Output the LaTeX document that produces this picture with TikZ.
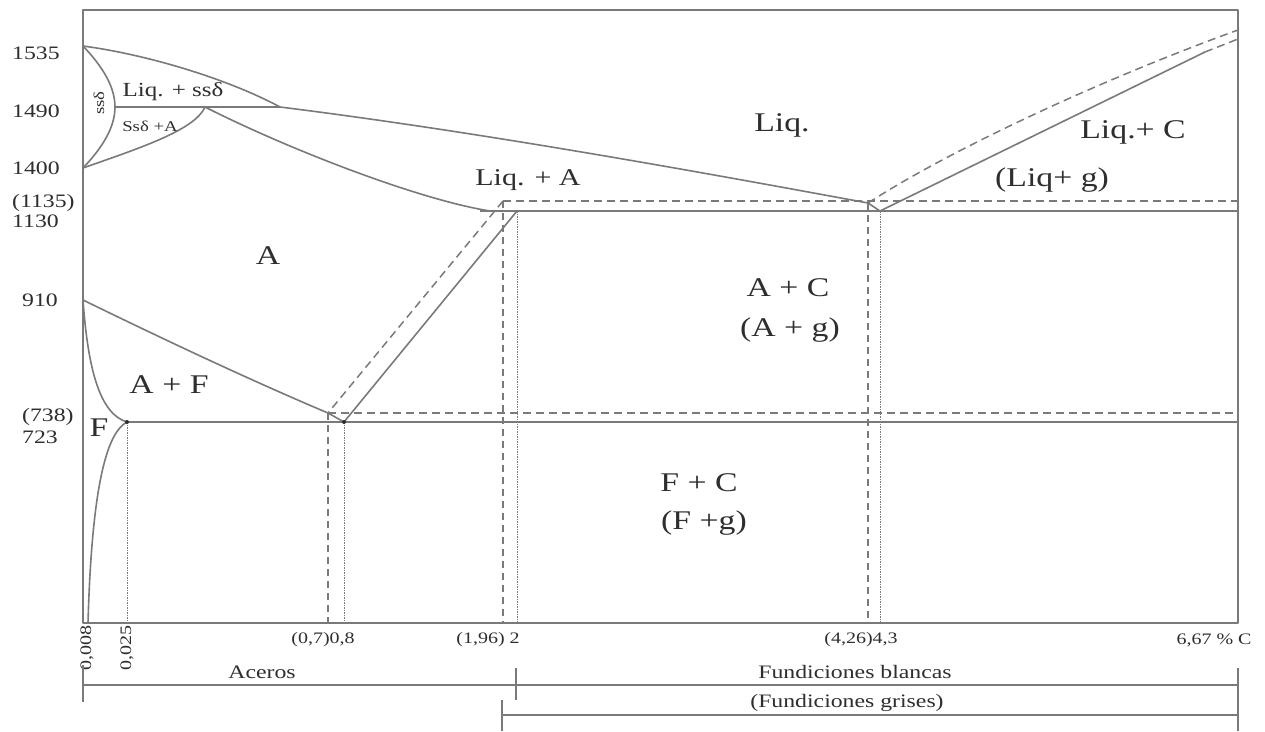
\documentclass[tikz,border=0pt]{standalone}
\usepackage{fontspec}
\setmainfont[FakeStretch=1.25]{Liberation Serif}
\definecolor{lc}{HTML}{7A7A7A}
\definecolor{tc}{HTML}{2E2E2E}
\begin{document}
\begin{tikzpicture}[x=1pt,y=-1pt,
  ln/.style={draw=lc, line width=1.6pt, line join=round},
  dsh/.style={draw=lc, line width=1.5pt, dash pattern=on 8pt off 5pt},
  vdsh/.style={draw=lc, line width=1.2pt, dash pattern=on 7pt off 5pt},
  vdot/.style={draw=lc, line width=0.9pt, dash pattern=on 1.5pt off 1pt},
  big/.style={font=\fontsize{27}{30}\selectfont, text=tc, inner sep=0pt},
  mid/.style={font=\fontsize{24}{28}\selectfont, text=tc, inner sep=0pt},
  sml/.style={font=\fontsize{20}{24}\selectfont, text=tc, inner sep=0pt},
  tiny/.style={font=\fontsize{15}{18}\selectfont, text=tc, inner sep=0pt},
  ax/.style={font=\fontsize{19}{21}\selectfont, text=tc, inner sep=0pt, anchor=west},
  xt/.style={font=\fontsize{16}{18}\selectfont, text=tc, inner sep=0pt},
  br/.style={font=\fontsize{19}{22}\selectfont, text=tc, inner sep=0pt}]
\useasboundingbox (0,0) rectangle (1265,731);
\fill[white] (0,0) rectangle (1265,731);

% key points
\coordinate (Tm) at (83,46);
\coordinate (Dmax) at (115,107);
\coordinate (Per) at (205,107);
\coordinate (Lp) at (280,107);
\coordinate (T14) at (83,168);
\coordinate (G) at (83,300);
\coordinate (Pf) at (127,422);
\coordinate (Q) at (88,623);
\coordinate (S1) at (344,422);
\coordinate (S2) at (328,413);
\coordinate (E1s) at (517,211);
\coordinate (E2s) at (503,201);
\coordinate (E1) at (880,211);
\coordinate (E2) at (868,203);

% frame
\draw[ln] (83,10) rectangle (1238,623);

% delta region
\draw[ln] (Tm) .. controls (150,55) and (230,80) .. (Lp);
\draw[ln] (Dmax) -- (Lp);
\draw[ln] (Tm) .. controls (104,68) and (115,88) .. (Dmax) .. controls (115,126) and (104,146) .. (T14);
\draw[ln] (T14) .. controls (140,148) and (195,130) .. (Per);
% liquidus and solidus
\draw[ln] (Lp) .. controls (480,132) and (700,172) .. (E2) -- (E1);
\draw[ln] (Per) .. controls (290,150) and (420,200) .. (490,211);
\draw[ln] (480,211) -- (1238,211);
\draw[dsh] (E2s) -- (1238,201);
% Acm
\draw[ln] (E1s) -- (S1);
\draw[dsh] (E2s) -- (S2);
% A3 and ferrite
\draw[ln] (G) .. controls (165,340) and (250,380) .. (S2) -- (S1);
\draw[ln] (G) .. controls (88,370) and (100,414) .. (Pf);
\draw[ln] (Pf) .. controls (108,432) and (92,480) .. (Q);
\draw[ln] (Pf) -- (1238,422);
\draw[dsh] (S2) -- (1238,413);
% hypereutectic
\draw[ln] (E1) -- (1205,52);
\draw[dsh] (1205,52) -- (1238,39);
\draw[dsh] (E2) .. controls (950,150) and (1100,80) .. (1238,30);

% vertical lines
\draw[vdot] (Pf) -- (127,623);
\draw[vdsh] (S2) -- (328,623);
\draw[vdot] (S1) -- (344,623);
\draw[vdsh] (E2s) -- (503,623);
\draw[vdot] (E1s) -- (517,623);
\draw[vdsh] (E2) -- (868,623);
\draw[vdot] (E1) -- (880,623);

\fill[tc] (Pf) circle (2pt);
\fill[tc] (S1) circle (2pt);

% axis labels
\node[ax] (t1535) at (12,53) {1535};
\node[ax] (t1490) at (12,111) {1490};
\node[ax] (t1400) at (12,168) {1400};
\node[ax] (t1135) at (12,203) {(1135)};
\node[ax] (t1130) at (12,221) {1130};
\node[ax] (t910) at (22,300) {910};
\node[ax] (t738) at (22,417) {(738)};
\node[ax] (t723) at (22,437) {723};

% region labels
\node[tiny, rotate=90] (ssd) at (99,103) {ssδ};
\node[sml] (lsd) at (173,92) {Liq. + ssδ};
\node[tiny] (sda) at (150,126) {Ssδ +A};
\node[big] (liq) at (782,125) {Liq.};
\node[mid] (liqa) at (528,180) {Liq. + A};
\node[big] (liqc) at (1133,132) {Liq.+ C};
\node[big] (liqg) at (1052,180) {(Liq+ g)};
\node[big] (A) at (268,256) {A};
\node[big] (ac) at (788,288) {A + C};
\node[big] (ag) at (790,330) {(A + g)};
\node[big] (af) at (169,385) {A + F};
\node[big] (F) at (99,428) {F};
\node[big] (fc) at (699,483) {F + C};
\node[big] (fg) at (704,523) {(F +g)};

% x labels
\node[xt, rotate=90] (x008) at (87,648) {0,008};
\node[xt, rotate=90] (x025) at (127,648) {0,025};
\node[xt] (x08) at (323,640) {(0,7)0,8};
\node[xt] (x2) at (488,640) {(1,96) 2};
\node[xt] (x43) at (861,640) {(4,26)4,3};
\node[xt] (x667) at (1214,640) {6,67 \% C};

% brackets
\draw[ln] (83,685) -- (1238,685);
\draw[ln, line width=1.2pt] (83,665) -- (83,702);
\draw[ln, line width=1.2pt] (516,668) -- (516,700);
\draw[ln] (502,715) -- (1238,715);
\draw[ln, line width=1.2pt] (502,700) -- (502,731);
\draw[ln, line width=1.2pt] (1238,668) -- (1238,731);
\node[br] (ac1) at (262,672) {Aceros};
\node[br] (fb) at (855,672) {Fundiciones blancas};
\node[br] (fgr) at (847,703) {(Fundiciones grises)};
\end{tikzpicture}
\end{document}
